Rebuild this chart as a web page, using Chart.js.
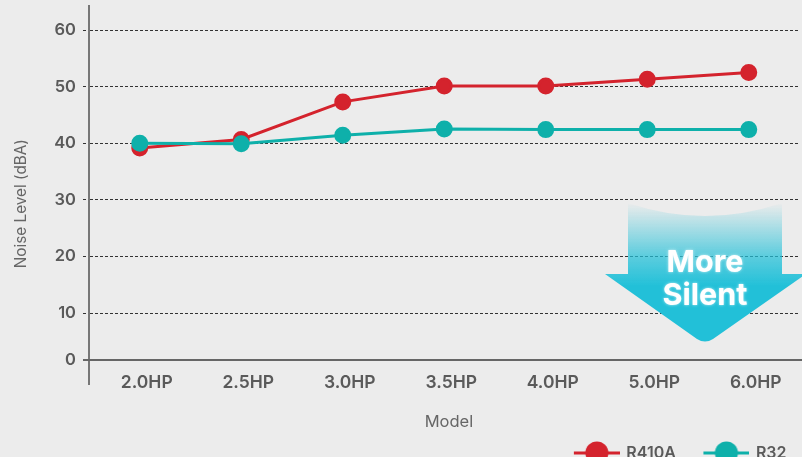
<!DOCTYPE html>
<html><head><meta charset="utf-8">
<style>html,body{margin:0;padding:0;width:802px;height:457px;overflow:hidden;background:#ececec}
canvas{display:block}</style>
<script src="https://cdn.jsdelivr.net/npm/chart.js@4"></script></head>
<body><canvas id="c" width="802" height="471"></canvas>
<script>
const models = ["2.0HP","2.5HP","3.0HP","3.5HP","4.0HP","5.0HP","6.0HP"];
const r410a = [39.15,40.65,47.3,50.1,50.1,51.3,52.5];
const r32 = [40.0,39.9,41.4,42.5,42.4,42.4,42.4];
// The reference's baseline sits a little closer to 10 than the even spacing: its "0" line is at 1.7 on this scale.
const baselinePosition = 1.7;
const yTicks = [baselinePosition,10,20,30,40,50,60];
const seriesNames = ["R410A","R32"];
const calloutLines = ["More","Silent"];
const RED="#d4232d", TEAL="#0eb0aa", FF="Inter, 'Liberation Sans', sans-serif", TXT="#5a5a5a";

function legendMark(color){
  const k=document.createElement('canvas');k.width=62;k.height=24;
  const g=k.getContext('2d');
  g.fillStyle=color;g.fillRect(16,10.5,46,3);
  g.beginPath();g.arc(39,12,11.5,0,Math.PI*2);g.fill();
  return k;
}
const marks=[legendMark(RED),legendMark(TEAL)];

const zeroLine={id:'zeroLine',beforeDatasetsDraw(ch){
  const {ctx,scales:{y}}=ch;const p=y.getPixelForValue(baselinePosition);
  ctx.save();ctx.strokeStyle='#666';ctx.lineWidth=2;
  ctx.beginPath();ctx.moveTo(83,p);ctx.lineTo(802,p);ctx.stroke();ctx.restore();
}};
const callout={id:'callout',afterDatasetsDraw(ch){
  const ctx=ch.ctx;ctx.save();
  const cx=705;
  const grad=ctx.createLinearGradient(0,203,0,286);
  grad.addColorStop(0,'rgba(34,192,216,0)');
  grad.addColorStop(0.25,'rgba(34,192,216,0.28)');
  grad.addColorStop(0.65,'rgba(34,192,216,0.72)');
  grad.addColorStop(1,'rgba(34,192,216,1)');
  ctx.fillStyle=grad;
  ctx.beginPath();
  ctx.moveTo(628,203);
  ctx.quadraticCurveTo(cx,229,782,203);
  ctx.lineTo(782,274);ctx.lineTo(806,274);
  ctx.lineTo(cx+8,339);
  ctx.quadraticCurveTo(cx,344,cx-8,339);
  ctx.lineTo(605,274);ctx.lineTo(628,274);
  ctx.closePath();ctx.fill();
  ctx.fillStyle='#fff';ctx.textAlign='center';ctx.textBaseline='middle';
  ctx.font="700 30.5px "+FF;
  ctx.shadowColor='rgba(255,255,255,0.7)';ctx.shadowBlur=3;
  ctx.fillText(calloutLines[0],cx,263);
  ctx.fillText(calloutLines[1],cx,296);
  ctx.restore();
}};

new Chart(document.getElementById('c'),{
  type:'line',
  data:{labels:models,datasets:[
    {label:seriesNames[0],data:r410a,borderColor:RED,backgroundColor:RED,order:1,borderWidth:3,pointRadius:7,pointHoverRadius:7,tension:0},
    {label:seriesNames[1],data:r32,borderColor:TEAL,backgroundColor:TEAL,order:0,borderWidth:3,pointRadius:7,pointHoverRadius:7,tension:0}
  ]},
  options:{
    responsive:false,animation:false,devicePixelRatio:1,
    layout:{padding:{top:6,left:0,right:2.5,bottom:0},autoPadding:false},
    plugins:{
      tooltip:{enabled:false},
      legend:{position:'bottom',align:'end',
        labels:{usePointStyle:true,pointStyleWidth:59,padding:13,boxHeight:15,color:TXT,
          font:{family:FF,size:16,weight:'600'},
          generateLabels(ch){return ch.data.datasets.map((d,i)=>({text:d.label,datasetIndex:i,pointStyle:marks[i],fontColor:TXT,fillStyle:d.borderColor,strokeStyle:d.borderColor,lineWidth:0,hidden:false}));}
        }}
    },
    scales:{
      x:{type:'category',offset:true,
        grid:{display:false,drawTicks:false},border:{display:false},
        ticks:{mirror:true,color:TXT,padding:-9,font:{family:FF,size:17.5,weight:'600'},labelOffset:7,maxRotation:0,autoSkip:false},
        title:{display:true,text:'  Model',color:'#666',font:{family:FF,size:16.5,weight:'400'},padding:{top:0,bottom:0}},
        afterFit(s){s.height=48;s.paddingLeft=0;s.paddingRight=0;}
      },
      y:{min:-2.54,max:64.24,
        afterBuildTicks(s){s.ticks=yTicks.map(v=>({value:v}));},
        grid:{color:'#333',lineWidth:1,tickLength:6,tickColor:'#333',tickBorderDash:[3,2],drawTicks:true},
        border:{display:true,color:'#777',width:2,dash:[3,2]},
        ticks:{color:TXT,padding:7,font:{family:FF,size:16.5,weight:'600'},
          callback(v){return v===baselinePosition?'0':String(v);}},
        title:{display:true,text:'Noise Level (dBA)    ',color:'#666',font:{family:FF,size:15.3,weight:'400'},padding:{top:12,bottom:0}},
        afterFit(s){s.width=89;s.paddingTop=0;s.paddingBottom=0;}
      }
    }
  },
  plugins:[zeroLine,callout]
});
</script></body></html>
